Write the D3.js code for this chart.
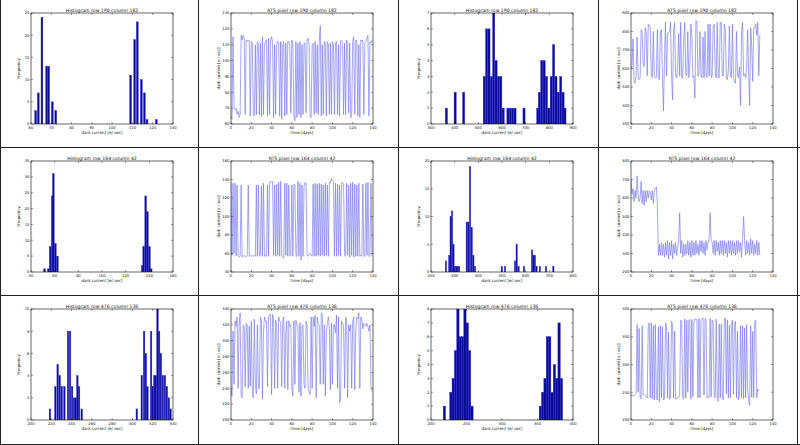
<!DOCTYPE html>
<html><head><meta charset="utf-8">
<script src="https://cdn.jsdelivr.net/npm/d3@7"></script>
<style>body{margin:0;background:#fff}svg{display:block}text{font-family:"DejaVu Sans",sans-serif;fill:#111}</style>
</head><body><svg id="c" width="800" height="445"></svg>
<script>
// ---------- DATA ----------
const panelTitles = [
  "Histogram row 190 column 182","RTS pixel row 190 column 182","Histogram row 190 column 182","RTS pixel row 190 column 182",
  "Histogram row 164 column 42","RTS pixel row 164 column 42","Histogram row 164 column 42","RTS pixel row 164 column 42",
  "Histogram row 476 column 136","RTS pixel row 476 column 136","Histogram row 476 column 136","RTS pixel row 476 column 136"
];
const histXLabel = "dark current [e/ sec]";
const histYLabel = "Frequency";
const rtsXLabel = "time [days]";
const rtsYLabel = "dark current [e / sec]";
const dayTicks = [0,20,40,60,80,100,120,140];

// Panel 1 histogram
const h1Centers = [62.3,63.6,65.4,67.7,68.7,70.5,72.2,109.1,111.1,112.4,114.4,115.9,117.2,121.8];
const h1Counts  = [3,7,24,13,13,5,3,11,19,23,10,7,1,1];
const h1XTicks = [60,70,80,90,100,110,120,130];
const h1YTicks = [0,5,10,15,20,25];

// Panel 2 time series
const rts2 = [65,63,115,70,69,70,66,68,64,66, 116,113,116,114,66,113,112,113,112,65,
  112,111,66,65,110,66,112,111,66,111, 65,115,66,110,112,113,65,114,66,113,
  115,111,64,110,66,110,112,111,65,112, 63,110,112,65,111,66,112,112,110,67,
  113,110,65,62,112,64,111,66,112,64, 110,66,111,111,67,113,114,110,65,64,
  110,111,66,112,67,110,66,112,122,65, 110,66,112,111,65,112,110,66,111,66,
  112,110,66,111,112,66,110,65,112,113, 112,66,111,66,113,110,67,111,64,65,
  112,115,66,113,112,65,110,64,113,112, 113,66,111,112,114,116,65,112,111,113];
const r2YTicks = [60,70,80,90,100,110,120,130];

// Panel 3 histogram
const h3Centers = [365,402,438,525,535,545,555,565,575,585,595,605,625,635,645,655,693,751,
  758,768,778,788,798,808,818,828,838,848,858,866];
const h3Counts  = [1,2,2,3,6,6,3,7,4,3,3,1,1,1,1,1,1,1,
  2,4,4,3,1,3,5,3,2,3,2,1];
const h3XTicks = [300,400,500,600,700,800,900];
const h3YTicks = [0,1,2,3,4,5,6,7];

// Panel 4 time series
const rts4 = [610,600,760,530,520,560,770,560,540,550, 810,800,620,610,820,800,560,840,830,820,
  560,550,800,560,550,550,810,550,540,800, 810,560,370,650,850,560,790,790,800,850,
  560,430,810,850,560,550,610,790,560,850, 550,550,760,850,570,560,800,550,620,840,
  780,550,560,440,860,850,560,580,800,560, 550,770,550,800,560,550,840,560,840,550,
  560,830,840,590,550,850,550,550,850,850, 560,560,840,810,550,540,590,830,560,550,
  840,550,530,520,800,560,550,610,400,800, 850,560,570,550,600,810,560,400,820,720,
  530,820,820,840,780,850,560,780];
const r4YTicks = [300,400,500,600,700,800,900];

// Panel 5 histogram
const h5Centers = [51.5,54.6,56.2,57.9,58.9,60.6,62.3,134.0,135.2,136.9,138.4,140.1,141.6];
const h5Counts  = [1,1,8,24,31,9,5,2,8,24,19,8,1];
const h5XTicks = [40,60,80,100,120,140,160];
const h5YTicks = [0,5,10,15,20,25,30,35];

// Panel 6 time series
const rts6 = [137,58,136,60,136,57,134,58,56,57, 134,56,57,58,57,56,57,134,57,58,
  57,58,57,58,57,134,57,134,57,58, 133,57,136,57,58,57,134,57,136,138,
  137,138,58,134,57,135,58,137,57,138, 57,56,55,136,58,136,57,134,57,58,
  134,57,135,134,58,57,138,57,136,53, 134,57,133,137,136,58,57,59,60,58,
  57,135,57,136,57,135,58,136,57,135, 58,134,57,136,58,134,57,137,136,141,
  139,138,57,136,57,135,58,134,57,136, 137,134,58,57,136,58,134,56,136,58,
  137,56,135,57,134,57,136,57,58,57, 135,57,57,136,58,137,57,57,136,58];
const r6YTicks = [40,60,80,100,120,140,160];

// Panel 7 histogram
const h7Centers = [263,277,283,289,295,301,307,313,319,351,358,365,372,379,386,499,513,555,562,570,593,627,633,639,646,660,686,717];
const h7Counts  = [2,3,10,11,5,1,1,1,1,9,9,19,8,3,1,1,1,2,5,1,1,4,3,3,1,1,1,1];
const h7XTicks = [200,300,400,500,600,700,800];
const h7YTicks = [0,5,10,15,20];

// Panel 8 time series
const rts8 = [700,620,650,580,640,600,720,620,580,600, 690,570,640,560,640,580,640,600,640,630,
  590,640,570,640,650,660,570,290,350,290, 360,290,350,280,360,290,370,270,360,290,
  370,270,350,300,360,290,330,370,520,300, 370,280,350,290,350,300,370,290,360,280,
  370,290,360,290,370,300,350,290,370,310, 370,300,360,290,370,320,360,380,520,370,
  360,300,370,290,370,310,360,290,370,300, 370,290,370,300,360,280,370,300,370,290,
  370,300,360,290,370,300,370,310,360,280, 380,500,370,290,370,300,360,290,380,300,
  370,290,350,300,370,290,360,290];
const r8YTicks = [200,300,400,500,600,700,800];

// Panel 9 histogram
const h9Centers = [218.7,224.0,226.3,228.3,230.3,232.9,236.5,238.5,240.5,242.4,244.0,245.7,247.4,250.0,
  304.3,309.2,311.5,313.2,314.8,318.4,320.0,321.6,323.0,324.7,326.3,328.0,330.0,332.0,333.9,335.9,337.6];
const h9Counts  = [1,3,5,4,3,3,8,8,3,2,2,4,3,1,
  1,4,8,6,3,8,3,4,4,10,8,6,4,4,3,2,1];
const h9XTicks = [200,220,240,260,280,300,320,340];
const h9YTicks = [0,2,4,6,8,10];

// Panel 10 time series
const rts10 = [240,230,312,245,325,318,330,240,320,335, 230,228,320,318,242,322,320,240,318,243,
  325,232,228,327,245,233,320,240,240,330, 325,226,310,330,325,325,242,330,333,333,
  232,333,325,240,326,320,240,330,325,323, 242,325,330,240,310,325,238,325,318,320,
  240,230,325,245,326,320,318,235,323,230, 318,320,245,240,325,320,238,236,232,330,
  240,330,318,332,228,330,322,320,245,335, 333,245,320,230,310,322,330,315,238,322,
  245,320,320,310,332,240,330,222,225,325, 322,318,240,330,326,228,320,312,320,240,
  325,330,238,312,330,328,335,240,330,326, 315,322,320,318,322,318,312,320,240,236];
const r10YTicks = [200,220,240,260,280,300,320,340];

// Panel 11 histogram
const h11Centers = [218.8,228.0,231.3,234.6,237.9,241.2,244.5,247.8,251.1,254.4,257.7,
  354.0,357.3,360.6,363.9,367.2,370.5,373.8,377.1,380.4,383.7];
const h11Counts  = [1,2,3,5,8,6,6,8,7,5,1,
  1,2,3,6,6,2,4,3,7,3];
const h11XTicks = [200,250,300,350,400];
const h11YTicks = [0,1,2,3,4,5,6,7,8];

// Panel 12 time series
const rts12 = [245,243,245,244,246,247,372,250,365,240, 238,370,245,246,244,243,240,370,375,240,
  375,238,370,236,372,240,236,368,233,370, 240,368,236,238,375,371,240,358,237,241,
  378,372,240,360,238,239,240,240,245,380, 378,240,238,382,240,380,250,380,381,238,
  381,242,376,382,382,380,240,383,240,379, 382,384,245,383,380,240,241,241,383,242,
  380,376,243,240,382,237,234,373,240,373, 243,236,380,384,247,380,240,370,240,372,
  380,246,371,378,240,360,236,245,370,240, 370,238,366,240,372,255,236,226,370,241,
  360,240,378,380,240,256,252];
const r12YTicks = [200,250,300,350,400];

// ---------- PANEL TABLE ----------
const panels = [
  {k:'h', cx:h1Centers, cy:h1Counts, bw:0.9, xt:h1XTicks, yt:h1YTicks},
  {k:'r', v:rts2, xt:dayTicks, yt:r2YTicks},
  {k:'h', cx:h3Centers, cy:h3Counts, bw:9, xt:h3XTicks, yt:h3YTicks},
  {k:'r', v:rts4, xt:dayTicks, yt:r4YTicks},
  {k:'h', cx:h5Centers, cy:h5Counts, bw:1.4, xt:h5XTicks, yt:h5YTicks},
  {k:'r', v:rts6, xt:dayTicks, yt:r6YTicks},
  {k:'h', cx:h7Centers, cy:h7Counts, bw:5.5, xt:h7XTicks, yt:h7YTicks},
  {k:'r', v:rts8, xt:dayTicks, yt:r8YTicks},
  {k:'h', cx:h9Centers, cy:h9Counts, bw:1.5, xt:h9XTicks, yt:h9YTicks},
  {k:'r', v:rts10, xt:dayTicks, yt:r10YTicks},
  {k:'h', cx:h11Centers, cy:h11Counts, bw:3.3, xt:h11XTicks, yt:h11YTicks},
  {k:'r', v:rts12, xt:dayTicks, yt:r12YTicks}
];

// ---------- DRAW ----------
const svg = d3.select("#c");
const colX = [0,200,400,600], rowY = [0,148,296];
const L=31, R=173, T=13, B=124;

panels.forEach((p,i)=>{
  const col=i%4, row=Math.floor(i/4);
  const g = svg.append("g").attr("transform",`translate(${colX[col]},${rowY[row]})`);
  const x = d3.scaleLinear().domain(d3.extent(p.xt)).range([L,R]);
  const y = d3.scaleLinear().domain(d3.extent(p.yt)).range([B,T]);
  const clip = "clip"+i;
  g.append("clipPath").attr("id",clip).append("rect").attr("x",L).attr("y",T).attr("width",R-L).attr("height",B-T);
  const plot = g.append("g").attr("clip-path",`url(#${clip})`);
  if(p.k==='h'){
    plot.selectAll("rect").data(p.cx.map((c,j)=>[c,p.cy[j]])).join("rect")
      .attr("x",d=>x(d[0]-p.bw/2)).attr("width",d=>Math.max(0.8,x(d[0]+p.bw/2)-x(d[0]-p.bw/2)))
      .attr("y",d=>y(d[1])).attr("height",d=>y(0)-y(d[1]))
      .attr("fill","#0a0a9a").attr("stroke","#2b2bd0").attr("stroke-width",0.4);
  } else {
    plot.append("path").datum(p.v)
      .attr("d",d3.line().x((d,j)=>x(j)).y(d=>y(d)))
      .attr("fill","none").attr("stroke","#7474f2").attr("stroke-width",0.65);
  }
  // axes (matplotlib-like inward ticks)
  const ax = g.append("g");
  ax.append("rect").attr("x",L).attr("y",T).attr("width",R-L).attr("height",B-T)
    .attr("fill","none").attr("stroke","#000").attr("stroke-width",0.6);
  p.xt.forEach(t=>{
    ax.append("line").attr("x1",x(t)).attr("x2",x(t)).attr("y1",B).attr("y2",B-2).attr("stroke","#000").attr("stroke-width",0.4);
    ax.append("line").attr("x1",x(t)).attr("x2",x(t)).attr("y1",T).attr("y2",T+2).attr("stroke","#000").attr("stroke-width",0.4);
    ax.append("text").attr("x",x(t)).attr("y",B+5).attr("text-anchor","middle").attr("font-size",3.8).text(t);
  });
  p.yt.forEach(t=>{
    ax.append("line").attr("x1",L).attr("x2",L+2).attr("y1",y(t)).attr("y2",y(t)).attr("stroke","#000").attr("stroke-width",0.4);
    ax.append("line").attr("x1",R).attr("x2",R-2).attr("y1",y(t)).attr("y2",y(t)).attr("stroke","#000").attr("stroke-width",0.4);
    ax.append("text").attr("x",L-1.5).attr("y",y(t)+1.3).attr("text-anchor","end").attr("font-size",3.8).text(t);
  });
  g.append("text").attr("x",(L+R)/2).attr("y",T-1.5).attr("text-anchor","middle").attr("font-size",4.6).text(panelTitles[i]);
  g.append("text").attr("x",(L+R)/2).attr("y",B+10).attr("text-anchor","middle").attr("font-size",4)
    .text(p.k==='h'?histXLabel:rtsXLabel);
  g.append("text").attr("transform",`translate(${L-11},${(T+B)/2}) rotate(-90)`).attr("text-anchor","middle").attr("font-size",4)
    .text(p.k==='h'?histYLabel:rtsYLabel);
});

// cell borders
const vLines=[0.5,198.5,398.5,598.5,797.5], hLines=[147.5,295.5,444.5];
vLines.forEach(v=>svg.append("line").attr("x1",v).attr("x2",v).attr("y1",0).attr("y2",445).attr("stroke","#222").attr("stroke-width",1));
hLines.forEach(h=>svg.append("line").attr("x1",0).attr("x2",800).attr("y1",h).attr("y2",h).attr("stroke","#222").attr("stroke-width",1));
</script></body></html>
